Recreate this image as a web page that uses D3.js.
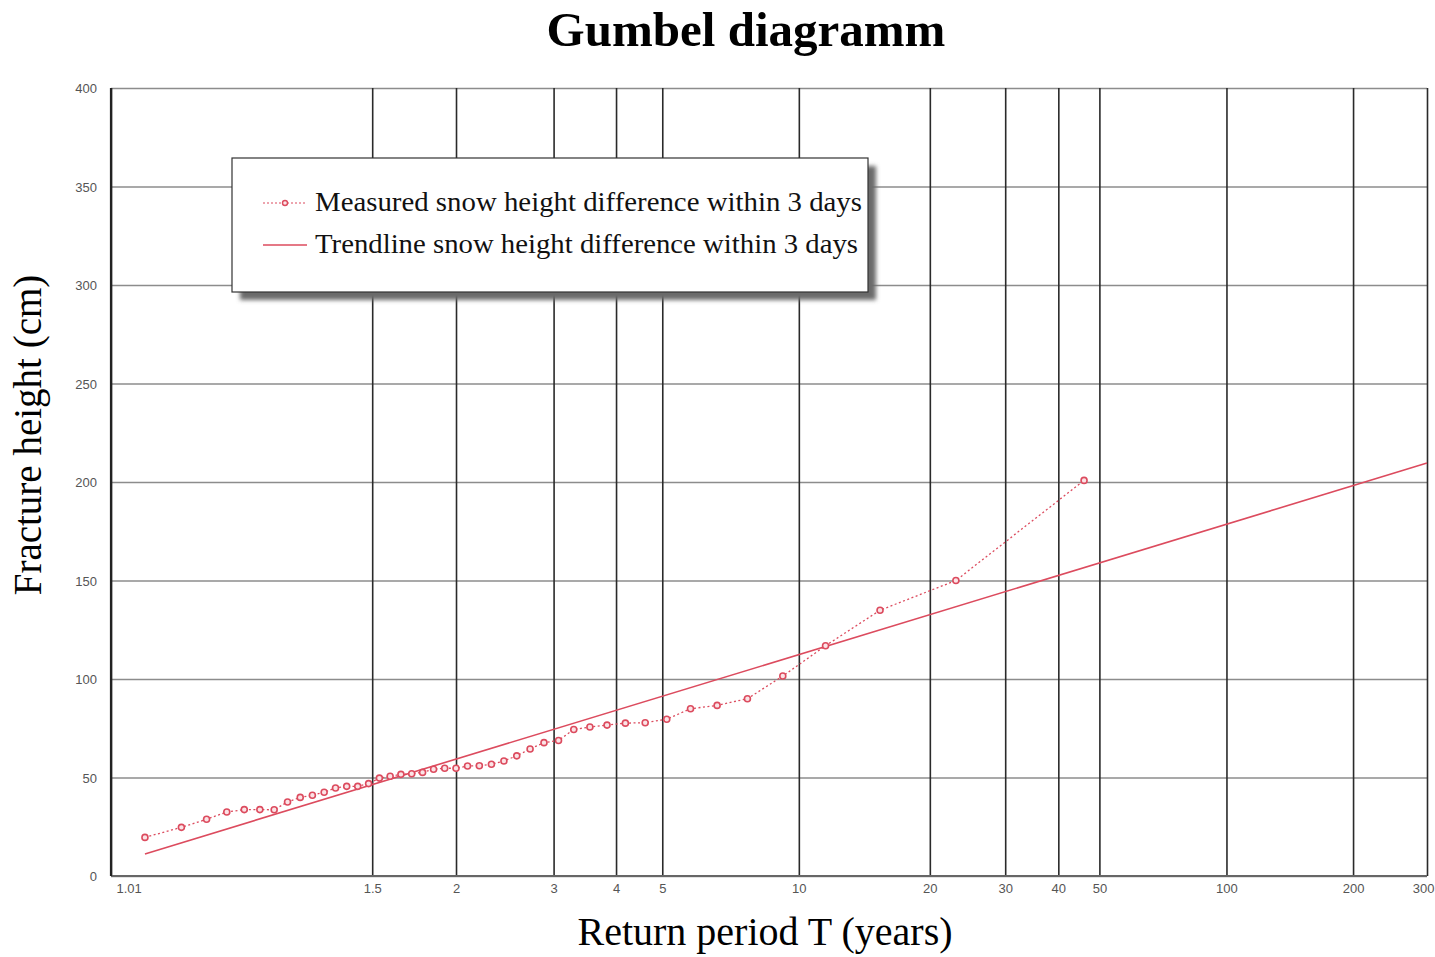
<!DOCTYPE html>
<html>
<head>
<meta charset="utf-8">
<script src="https://cdn.jsdelivr.net/npm/d3@7"></script>
<style>
  html, body { margin: 0; padding: 0; background: #fff; }
  svg { display: block; }
</style>
</head>
<body>
<svg id="chart" width="1435" height="957"></svg>
<script>
// ---------- data ----------
const titleText = "Gumbel diagramm";
const xLabelText = "Return period T (years)";
const yLabelText = "Fracture height (cm)";
const seriesNames = ["Measured snow height difference within 3 days", "Trendline snow height difference within 3 days"];

const xTickValues = [1.01, 1.5, 2, 3, 4, 5, 10, 20, 30, 40, 50, 100, 200, 300];
const xTickLabels = ["1.01", "1.5", "2", "3", "4", "5", "10", "20", "30", "40", "50", "100", "200", "300"];
const yTickValues = [0, 50, 100, 150, 200, 250, 300, 350, 400];

// Return period of each measured value (plotting positions)
const returnPeriods = [1.0222, 1.0455, 1.0698, 1.0952, 1.1220, 1.15, 1.1795, 1.2105, 1.2432, 1.2778,
  1.3143, 1.3529, 1.3939, 1.4375, 1.4839, 1.5333, 1.5862, 1.6429, 1.7037, 1.7692,
  1.84, 1.9167, 2.0, 2.0909, 2.1905, 2.3, 2.4211, 2.5556, 2.7059, 2.875,
  3.0667, 3.2857, 3.5385, 3.8333, 4.1818, 4.6, 5.1111, 5.75, 6.5714, 7.6667,
  9.2, 11.5, 15.3333, 23, 46];
// Measured snow height difference (cm)
const measuredHeights = [19.6, 24.7, 28.8, 32.5, 33.7, 33.7, 33.6, 37.6, 39.9, 41.0,
  42.5, 44.7, 45.5, 45.5, 46.9, 49.7, 50.6, 51.6, 51.9, 52.6,
  54.2, 54.7, 54.7, 55.8, 56.0, 56.7, 58.4, 61.0, 64.5, 67.7,
  68.8, 74.4, 75.6, 76.6, 77.6, 77.8, 79.6, 84.9, 86.6, 90.0,
  101.5, 116.9, 134.9, 150.0, 200.8];
// Trendline end points
const trendT = [1.0222, 300];
const trendH = [11.2, 209.6];

// ---------- layout ----------
const W = 1435, H = 957;
const plot = { left: 111, right: 1427, top: 88, bottom: 876 };
const red = "#dc4b5e";
const serif = "Liberation Serif, Times New Roman, serif";
const sans = "Liberation Sans, Arial, sans-serif";

const svg = d3.select("#chart");

// Gumbel reduced variate
const gumbel = T => -Math.log(-Math.log(1 - 1 / T));

function gumbelScale(domain, range) {
  const lin = d3.scaleLinear().domain(domain.map(gumbel)).range(range);
  function s(T) { return lin(gumbel(T)); }
  s.domain = () => domain.slice();
  s.range = () => lin.range();
  s.copy = () => gumbelScale(domain, range);
  return s;
}

const x = gumbelScale([1.01, 300], [plot.left, plot.right]);
const y = d3.scaleLinear().domain([0, 400]).range([plot.bottom, plot.top]);

// ---------- grid / axes ----------
const yAxis = d3.axisLeft(y).tickValues(yTickValues).tickSize(-(plot.right - plot.left)).tickPadding(14);
const gy = svg.append("g").attr("transform", `translate(${plot.left},0)`).call(yAxis);
gy.select(".domain").remove();
gy.selectAll(".tick line").attr("stroke", "#8c8c8c").attr("stroke-width", 1.6);
gy.selectAll(".tick text")
  .attr("fill", "#555").attr("font-family", sans).attr("font-size", 13)
  .attr("dy", "0.35em");

const xAxis = d3.axisBottom(x).tickValues(xTickValues).tickSize(-(plot.bottom - plot.top)).tickPadding(8)
  .tickFormat((d, i) => xTickLabels[i]);
const gx = svg.append("g").attr("transform", `translate(0,${plot.bottom})`).call(xAxis);
gx.select(".domain").remove();
gx.selectAll(".tick line").attr("stroke", "#2a2a2a").attr("stroke-width", 1.6);
gx.selectAll(".tick text")
  .attr("fill", "#555").attr("font-family", sans).attr("font-size", 13)
  .attr("y", 8).attr("dy", "0.71em");
gx.selectAll(".tick").filter((d, i) => i === 0).select("text").attr("text-anchor", "start").attr("x", 5);
gx.selectAll(".tick").filter((d, i) => i === xTickValues.length - 1).select("text")
  .attr("text-anchor", "end").attr("x", W - x(300) - 1);

// frame lines
svg.append("line").attr("x1", plot.left).attr("x2", plot.right).attr("y1", plot.bottom).attr("y2", plot.bottom)
  .attr("stroke", "#666").attr("stroke-width", 2);
svg.append("line").attr("x1", plot.left).attr("x2", plot.left).attr("y1", plot.top).attr("y2", plot.bottom)
  .attr("stroke", "#222").attr("stroke-width", 2.2);

// ---------- series ----------
const pts = returnPeriods.map((t, i) => ({ t, h: measuredHeights[i] }));

const trend = trendT.map((t, i) => ({ t, h: trendH[i] }));
const line = d3.line().x(d => x(d.t)).y(d => y(d.h));

svg.append("path").datum(trend).attr("d", line)
  .attr("fill", "none").attr("stroke", red).attr("stroke-width", 1.6);

svg.append("path").datum(pts).attr("d", line)
  .attr("fill", "none").attr("stroke", red).attr("stroke-width", 1.3).attr("stroke-dasharray", "2,2.5");

svg.append("g").selectAll("circle").data(pts).join("circle")
  .attr("cx", d => x(d.t)).attr("cy", d => y(d.h)).attr("r", 3)
  .attr("fill", "#fbe3e6").attr("stroke", red).attr("stroke-width", 1.6);

// ---------- legend ----------
const defs = svg.append("defs");
const f = defs.append("filter").attr("id", "blur").attr("x", "-10%").attr("y", "-10%").attr("width", "120%").attr("height", "130%");
f.append("feGaussianBlur").attr("stdDeviation", 2);

const lg = { x: 232, y: 158, w: 636, h: 134 };
svg.append("rect").attr("x", lg.x + 8).attr("y", lg.y + 8).attr("width", lg.w).attr("height", lg.h)
  .attr("fill", "#6a6a6a").attr("filter", "url(#blur)");
svg.append("rect").attr("x", lg.x).attr("y", lg.y).attr("width", lg.w).attr("height", lg.h)
  .attr("fill", "#fff").attr("stroke", "#333").attr("stroke-width", 1.2);

const rowY = [203, 245];
const rowW = [547, 543];
svg.append("line").attr("x1", 263).attr("x2", 307).attr("y1", rowY[0]).attr("y2", rowY[0])
  .attr("stroke", red).attr("stroke-width", 1.2).attr("stroke-dasharray", "2,2");
svg.append("circle").attr("cx", 285).attr("cy", rowY[0]).attr("r", 2.5)
  .attr("fill", "#fbe3e6").attr("stroke", red).attr("stroke-width", 1.4);
svg.append("line").attr("x1", 263).attr("x2", 307).attr("y1", rowY[1]).attr("y2", rowY[1])
  .attr("stroke", red).attr("stroke-width", 1.6);

svg.append("g").selectAll("text").data(seriesNames).join("text")
  .attr("x", 315).attr("y", (d, i) => rowY[i] + 8)
  .attr("font-family", serif).attr("font-size", 27.5)
  .attr("textLength", (d, i) => rowW[i]).attr("lengthAdjust", "spacingAndGlyphs")
  .attr("fill", "#111").text(d => d);

// ---------- titles ----------
svg.append("text").attr("x", 746).attr("y", 46).attr("text-anchor", "middle")
  .attr("font-family", serif).attr("font-weight", "bold")
  .attr("font-size", 49).attr("fill", "#000").text(titleText);

svg.append("text").attr("x", 765).attr("y", 945).attr("text-anchor", "middle")
  .attr("font-family", serif)
  .attr("font-size", 40).attr("fill", "#000").text(xLabelText);

svg.append("text").attr("transform", "translate(41,435) rotate(-90)").attr("text-anchor", "middle")
  .attr("font-family", serif)
  .attr("font-size", 39).attr("fill", "#000").text(yLabelText);
</script>
</body>
</html>
